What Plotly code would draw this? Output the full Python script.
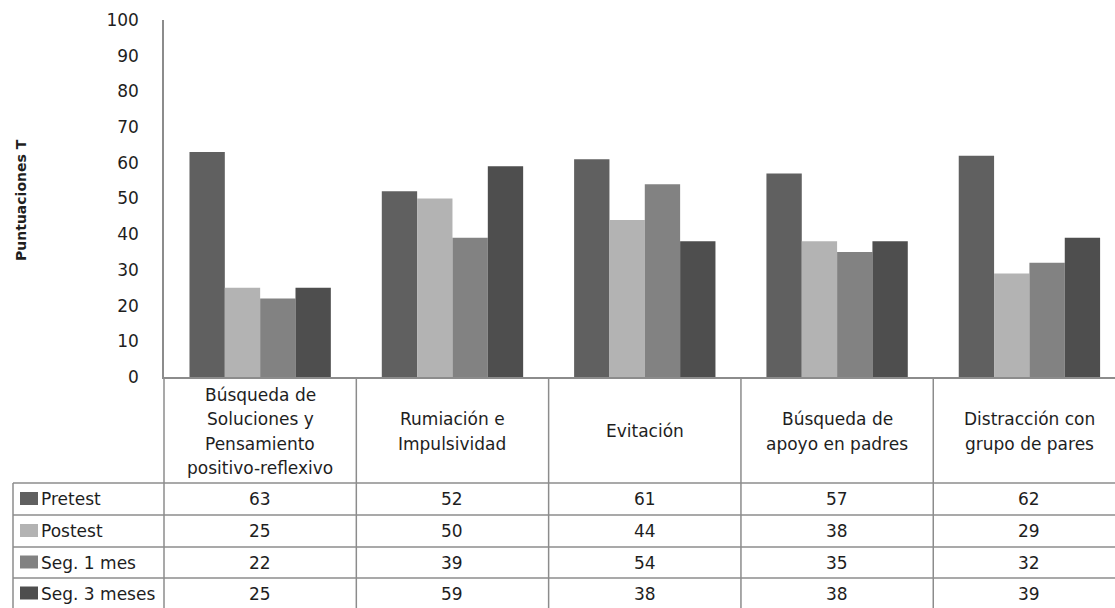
import plotly.graph_objects as go

# Coping strategy categories (header cells of the data table)
categories = [
    "Búsqueda de<br>Soluciones y<br>Pensamiento<br>positivo-reflexivo",
    "Rumiación e<br>Impulsividad",
    "Evitación",
    "Búsqueda de<br>apoyo en padres",
    "Distracción con<br>grupo de pares",
]
series_names = ["Pretest", "Postest", "Seg. 1 mes", "Seg. 3 meses"]
pretest = [63, 52, 61, 57, 62]
postest = [25, 50, 44, 38, 29]
seg_1_mes = [22, 39, 54, 35, 32]
seg_3_meses = [25, 59, 38, 38, 39]
y_ticks = [0, 10, 20, 30, 40, 50, 60, 70, 80, 90, 100]

series_values = [pretest, postest, seg_1_mes, seg_3_meses]
colors = ["#606060", "#b3b3b3", "#828282", "#4e4e4e"]

W, H = 1115, 608
L, T, B = 164, 20, 231
PLOT_H = H - T - B
FONT = "DejaVu Sans"
TXT = "#1e1e1e"
GRID = "#8c8c8c"
FS = 17


def py(pixel_y):
    """Convert a pixel row to paper y coordinates."""
    return (H - B - pixel_y) / PLOT_H


def px(pixel_x):
    """Convert a pixel column to paper x coordinates."""
    return (pixel_x - L) / (W - L)


x_idx = list(range(len(categories)))

fig = go.Figure()
for name, vals, col in zip(series_names, series_values, colors):
    fig.add_trace(go.Bar(
        x=x_idx, y=vals, name=name,
        marker=dict(color=col, line=dict(width=0)),
        showlegend=False,
    ))

shapes = []
annotations = []

# Row boundaries of the data table (pixel rows)
header_top, header_bot = 377, 483
row_edges = [483, 515, 547, 578, 609]

# Horizontal lines of the table
for yb in row_edges[:-1]:
    shapes.append(dict(type="line", xref="paper", yref="paper",
                       x0=px(13), x1=1.0, y0=py(yb), y1=py(yb),
                       line=dict(color=GRID, width=1.5)))
# Left border of the legend column and the axis extension
shapes.append(dict(type="line", xref="paper", yref="paper",
                   x0=px(13), x1=px(13), y0=py(483), y1=py(609),
                   line=dict(color=GRID, width=1.5)))
shapes.append(dict(type="line", xref="paper", yref="paper",
                   x0=0, x1=0, y0=py(377), y1=py(609),
                   line=dict(color=GRID, width=1.5)))
# Vertical separators between category columns
for i in range(len(categories) - 1):
    shapes.append(dict(type="line", xref="x", yref="paper",
                       x0=i + 0.5, x1=i + 0.5, y0=py(377), y1=py(609),
                       line=dict(color=GRID, width=1.5)))

# Header cells, one annotation per text line for Excel-like leading
LINE_GAP = 24.3
header_mid = (header_top + header_bot) / 2 + 1.5
for i, cat in enumerate(categories):
    lines = cat.split("<br>")
    n = len(lines)
    for k, line in enumerate(lines):
        yc = header_mid + (k - (n - 1) / 2) * LINE_GAP
        annotations.append(dict(x=i, y=py(yc), xref="x", yref="paper",
                                text=line, showarrow=False,
                                xanchor="center", yanchor="middle",
                                font=dict(family=FONT, size=FS, color=TXT)))

# Data rows with legend keys
for r, (name, vals, col) in enumerate(zip(series_names, series_values, colors)):
    yc = (row_edges[r] + row_edges[r + 1]) / 2
    shapes.append(dict(type="rect", xref="paper", yref="paper",
                       x0=px(20), x1=px(38), y0=py(yc - 7), y1=py(yc + 6),
                       fillcolor=col, line=dict(width=0)))
    annotations.append(dict(x=px(39), y=py(yc), xref="paper", yref="paper",
                            text=name, showarrow=False, xanchor="left",
                            yanchor="middle",
                            font=dict(family=FONT, size=FS, color=TXT)))
    for i, v in enumerate(vals):
        annotations.append(dict(x=i, y=py(yc), xref="x", yref="paper",
                                text=str(v), showarrow=False,
                                xanchor="center", yanchor="middle",
                                font=dict(family=FONT, size=FS, color=TXT)))

# Y axis title
annotations.append(dict(x=px(21), y=py(200), xref="paper", yref="paper",
                        text="<b>Puntuaciones T</b>", textangle=-90,
                        showarrow=False, xanchor="center", yanchor="middle",
                        font=dict(family=FONT, size=14, color=TXT)))

fig.update_layout(
    width=W, height=H,
    margin=dict(l=L, r=0, t=T, b=B),
    paper_bgcolor="white", plot_bgcolor="white",
    barmode="group", bargap=0.265, bargroupgap=0,
    shapes=shapes, annotations=annotations,
    font=dict(family=FONT, color=TXT),
)
fig.update_xaxes(range=[-0.5, 4.445], showticklabels=False, showgrid=False,
                 zeroline=False, showline=True, linecolor=GRID, linewidth=1.5,
                 ticks="", fixedrange=True)
fig.update_yaxes(range=[0, 100], tickvals=y_ticks, showgrid=False,
                 zeroline=False, showline=True, linecolor=GRID, linewidth=1.5,
                 ticks="", ticklabelstandoff=20,
                 tickfont=dict(family=FONT, size=17, color=TXT),
                 fixedrange=True)

fig.write_html("out.html")
